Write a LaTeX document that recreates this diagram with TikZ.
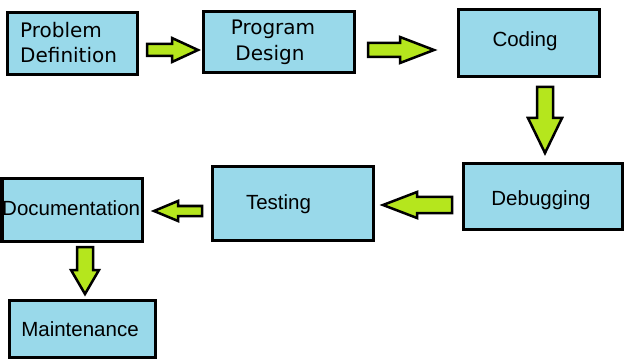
\documentclass[tikz,border=0pt]{standalone}
\usepackage{fontspec}
\setmainfont{Liberation Sans}
\newfontfamily\dvs{DejaVu Sans}
\definecolor{boxblue}{HTML}{99D9EA}
\definecolor{arrgreen}{HTML}{B5E61D}
\newcommand\ArrH[6]{% x1 xh x2 yc s h
  \draw[blockarr] (#1,#4-#5) -- (#2,#4-#5) -- (#2,#4-#6) -- (#3,#4) -- (#2,#4+#6) -- (#2,#4+#5) -- (#1,#4+#5) -- cycle;}
\newcommand\ArrV[6]{% y1 yh y2 xc s h
  \draw[blockarr] (#4-#5,#1) -- (#4-#5,#2) -- (#4-#6,#2) -- (#4,#3) -- (#4+#6,#2) -- (#4+#5,#2) -- (#4+#5,#1) -- cycle;}
\begin{document}
\begin{tikzpicture}[x=1pt,y=-1pt,
  box/.style={draw=black, line width=3pt, fill=boxblue, rectangle, inner sep=0pt},
  blockarr/.style={draw=black, line width=2.5pt, fill=arrgreen, line join=miter},
  lbl/.style={font=\fontsize{20.5}{26}\selectfont, inner sep=0pt},
  dlbl/.style={font=\dvs\fontsize{20}{26}\selectfont, inner sep=0pt}]
\useasboundingbox (0,0) rectangle (625,361);
\fill[white] (0,0) rectangle (625,361);
% boxes
\node[box, minimum width=130pt, minimum height=62pt] (pd) at (72,44) {};
\node[box, minimum width=151pt, minimum height=61pt] (pg) at (279,42.5) {};
\node[box, minimum width=141pt, minimum height=67pt] (cd) at (529,43) {};
\node[box, minimum width=159pt, minimum height=66pt] (db) at (543,196.5) {};
\node[box, minimum width=161pt, minimum height=73pt] (ts) at (292.5,203.5) {};
\node[box, minimum width=140pt, minimum height=63pt] (dc) at (72,210) {};
\node[box, minimum width=146pt, minimum height=57pt] (mt) at (82.5,328.5) {};
% texts
\node[dlbl, anchor=base west] (pd-a) at (20,38) {Problem};
\node[dlbl, anchor=base west] (pd-b) at (20,63) {Definition};
\node[dlbl, anchor=base] (pg-a) at (273,35) {Program};
\node[dlbl, anchor=base] (pg-b) at (270,61) {Design};
\node[lbl, anchor=base] (cd-t) at (525,47) {Coding};
\node[lbl, anchor=base] (db-t) at (541,205) {Debugging};
\node[lbl, anchor=base] (ts-t) at (278.5,209) {Testing};
\node[lbl, anchor=base west] (dc-t) at (2,215) {Documentation};
\node[lbl, anchor=base] (mt-t) at (80,336) {Maintenance};
% block arrows
\ArrH{147}{172}{198}{50}{6}{12}
\ArrH{368}{400}{434}{50}{7}{13}
\ArrV{87}{118}{153}{545}{8}{17}
\ArrH{452}{417}{383}{205}{8}{13}
\ArrH{202}{178}{154}{211}{5}{10}
\ArrV{247}{270}{294}{85}{8}{14}
\end{tikzpicture}
\end{document}
